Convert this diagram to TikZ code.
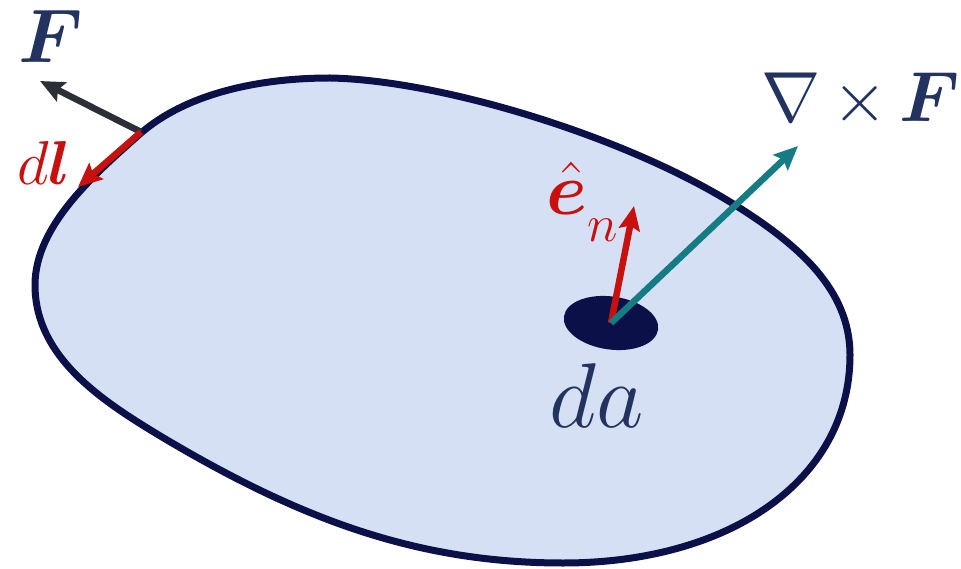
\RequirePackage{fix-cm}
\documentclass[tikz,border=0pt]{standalone}
\usepackage{bm}
\usetikzlibrary{arrows.meta,shapes.geometric}
\definecolor{navy}{HTML}{0B1048}
\definecolor{fillblue}{HTML}{D6E0F4}
\definecolor{txtnavy}{HTML}{22335F}
\definecolor{vred}{HTML}{C8100F}
\definecolor{vteal}{HTML}{167C84}
\definecolor{vgray}{HTML}{2A2F38}
\tikzset{
  vec/.style={line width=6.5pt,-{Stealth[length=24pt,width=21pt,inset=4pt]}},
  lbl/.style={inner sep=0pt,anchor=base}
}
\begin{document}
\begin{tikzpicture}[x=1pt,y=-1pt]
\useasboundingbox (0,0) rectangle (961,569);
% blob key points
\coordinate (A) at (141,133);
\coordinate (B) at (330,78);
\coordinate (Cx) at (735,205);
\coordinate (D) at (850,355);
\coordinate (E) at (563,563);
\coordinate (G) at (167,440);
\coordinate (L) at (35,285);
\draw[navy,line width=7pt,fill=fillblue,line join=round]
  (A) .. controls (185,95) and (255,78) .. (B)
      .. controls (440,80) and (625,136) .. (Cx)
      .. controls (799,245) and (850,290) .. (D)
      .. controls (850,480) and (730,563) .. (E)
      .. controls (413,563) and (296,516) .. (G)
      .. controls (107,404) and (35,360) .. (L)
      .. controls (35,225) and (96,173) .. (A) -- cycle;
% arrow points
\coordinate (P) at (141,132);
\coordinate (Ftip) at (40,81);
\coordinate (dltip) at (78,187);
\coordinate (C) at (611,323);
\coordinate (entip) at (634,206);
\coordinate (curltip) at (798,146);
% dot
\node[draw=none,fill=navy,ellipse,minimum width=95pt,minimum height=53pt,inner sep=0pt,rotate=-8] (dot) at (C) {};
% arrows
\draw[vec,vgray] (P) -- (Ftip);
\draw[vec,vred] (P) -- (dltip);
\draw[vec,vred] (C) -- (entip);
\draw[vec,vteal] (C) -- (curltip);
% labels
\node[lbl,txtnavy] (Flab) at (51,63) {\fontsize{76}{78}\selectfont$\bm{F}$};
\node[lbl,vred] (dllab) at (44,185) {\fontsize{62}{64}\selectfont$d\bm{l}$};
\node[lbl,vred] (enlab) at (582,215) {\fontsize{74}{76}\selectfont$\hat{\bm{e}}$\fontsize{52}{54}\selectfont\raisebox{-27pt}{$n$}};
\node[lbl,txtnavy] (curllab) at (861,122) {\fontsize{71}{73}\selectfont$\medmuskip=3mu\nabla\times\bm{F}$};
\node[lbl,txtnavy] (dalab) at (597,427) {\fontsize{92}{94}\selectfont$da$};
\end{tikzpicture}
\end{document}
